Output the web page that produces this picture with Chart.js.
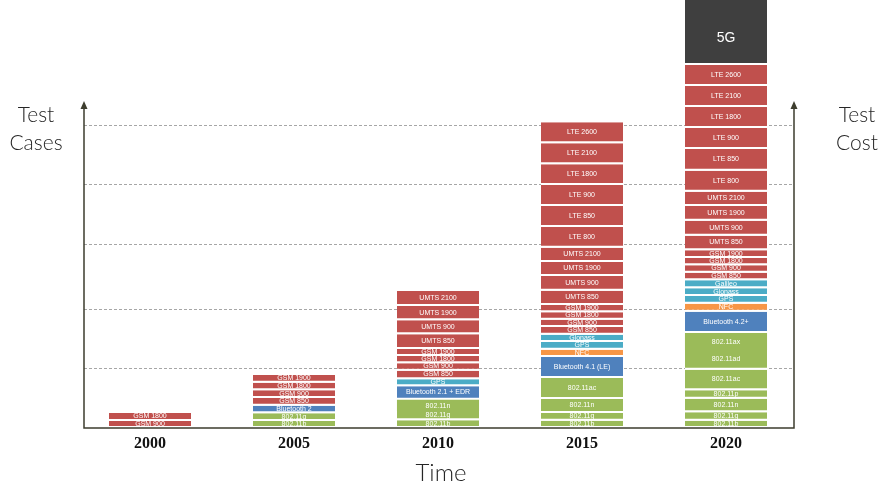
<!DOCTYPE html>
<html>
<head>
<meta charset="utf-8">
<script src="https://cdn.jsdelivr.net/npm/chart.js@4.4.1/dist/chart.umd.min.js"></script>
<style>
  html,body{margin:0;padding:0;background:#fff;}
  #wrap{width:889px;height:493px;position:relative;}
</style>
</head>
<body>
<div id="wrap"><canvas id="c"></canvas></div>
<script>
// ---- data (segment heights, bottom -> top) ----
const years = ['2000', '2005', '2010', '2015', '2020'];
const series = ['802.11b','802.11g','802.11n','802.11p','802.11ac','802.11ad','802.11ax',
  'Bluetooth','NFC','GPS','Glonass','Galileo',
  'GSM 850','GSM 900','GSM 1800','GSM 1900',
  'UMTS 850','UMTS 900','UMTS 1900','UMTS 2100',
  'LTE 800','LTE 850','LTE 900','LTE 1800','LTE 2100','LTE 2600','5G'];
const bluetoothNames = ['', 'Bluetooth 2', 'Bluetooth 2.1 + EDR', 'Bluetooth 4.1 (LE)', 'Bluetooth 4.2+'];
const n = null;
const y2000 = [n,n,n,n,n,n,n, n, n, n,n,n, n,7,8,n, n,n,n,n, n,n,n,n,n,n, n];
const y2005 = [7,7.7,n,n,n,n,n, 7.6, n, n,n,n, 7.7,7.7,7.6,7.7, n,n,n,n, n,n,n,n,n,n, n];
const y2010 = [7.7,9.3,11.3,n,n,n,n, 13.4, n, 7,n,n, 8.6,7.4,7.3,7, 14.7,14,14.3,15, n,n,n,n,n,n, n];
const y2015 = [7.3,7.7,14,n,21,n,n, 21, 7.3, 7.7,7.3,n, 7.7,7.3,7.4,7.3, 14.3,14.7,14,14.3, 20.7,21,21,20.7,21,21, n];
const y2020 = [7.3,8.4,13.6,8.4,20.6,19.7,17, 21.3, 8, 7.7,7.7,8, 7.6,7.4,7.3,7.7, 14.6,15,14.7,14.3, 21,21.7,21,21,21,21, 65];
const gridValues = [60, 119, 184, 244, 303];
// segments drawn flush on the one below them (no white separator)
const joinedBelow = {'802.11n': ['2010'], '802.11ax': ['2020']};

// ---- styles ----
const yearData = [y2000, y2005, y2010, y2015, y2020];
function colorFor(name){
  if (name.startsWith('802')) return '#9BBB59';
  if (name.startsWith('Bluetooth')) return '#4F81BD';
  if (name === 'NFC') return '#F79646';
  if (['GPS','Glonass','Galileo'].includes(name)) return '#4BACC6';
  if (name === '5G') return '#3F3F3F';
  return '#C0504D';
}
const datasets = series.map((name, i) => ({
  label: name,
  data: yearData.map(arr => arr[i]),
  backgroundColor: colorFor(name),
  borderColor: '#ffffff',
  borderSkipped: false,
  borderWidth: (ctx) => {
    const joined = (joinedBelow[name] || []).includes(years[ctx.dataIndex]);
    return {top: 0, left: 0, right: 0, bottom: joined ? 0 : 2};
  },
  categoryPercentage: 1.0,
  barPercentage: 0.57
}));

const deco = {
  id: 'deco',
  beforeDatasetsDraw(chart){
    const {ctx, chartArea} = chart;
    const ys = chart.scales.y;
    const axL = chartArea.left + 6, axR = chartArea.right - 4;
    ctx.save();
    ctx.strokeStyle = '#a6a6a6';
    ctx.lineWidth = 1;
    ctx.setLineDash([3, 2]);
    gridValues.forEach(v => {
      const y = Math.round(ys.getPixelForValue(v)) + 0.5;
      ctx.beginPath(); ctx.moveTo(axL, y); ctx.lineTo(axR, y); ctx.stroke();
    });
    ctx.restore();
  },
  afterDatasetsDraw(chart){
    const {ctx, chartArea} = chart;
    const ys = chart.scales.y, xs = chart.scales.x;
    ctx.save();
    // segment labels
    ctx.textAlign = 'center';
    ctx.textBaseline = 'middle';
    ctx.fillStyle = '#ffffff';
    chart.data.datasets.forEach((ds, di) => {
      const meta = chart.getDatasetMeta(di);
      meta.data.forEach((el, j) => {
        if (ds.data[j] == null) return;
        let txt = ds.label;
        if (txt === 'Bluetooth') txt = bluetoothNames[j];
        const joined = (joinedBelow[ds.label] || []).includes(years[j]);
        const bottom = el.base - (joined ? 0 : 2);
        let cy = (el.y + bottom) / 2;
        if (txt === '5G') {
          cy = el.y + (bottom - el.y) * 0.6;
          ctx.font = '14px "Liberation Sans", Arial, sans-serif';
        } else {
          ctx.font = '7px "Liberation Sans", Arial, sans-serif';
        }
        ctx.fillText(txt, el.x, cy + 0.5);
      });
    });
    // axes with arrows
    const axL = chartArea.left + 6, axR = chartArea.right - 4;
    const base = ys.getPixelForValue(0);
    const topY = 101;
    ctx.strokeStyle = '#3d3d2e';
    ctx.fillStyle = '#3d3d2e';
    ctx.lineWidth = 1.5;
    ctx.beginPath();
    ctx.moveTo(axL, topY + 5); ctx.lineTo(axL, base);
    ctx.lineTo(axR, base); ctx.lineTo(axR, topY + 5);
    ctx.stroke();
    [axL, axR].forEach(x => {
      ctx.beginPath();
      ctx.moveTo(x, topY); ctx.lineTo(x - 3.5, topY + 8); ctx.lineTo(x + 3.5, topY + 8);
      ctx.closePath(); ctx.fill();
    });
    // year labels
    ctx.fillStyle = '#111111';
    ctx.font = 'bold 16px "Liberation Serif", serif';
    years.forEach((yr, i) => {
      ctx.fillText(yr, xs.getPixelForValue(i), base + 16);
    });
    // axis titles
    ctx.fillStyle = '#262626';
    ctx.font = '300 24px Lato, "Open Sans", sans-serif';
    ctx.fillText('Time', (chartArea.left + chartArea.right) / 2 + 3, base + 45);
    ctx.font = '300 21px Lato, "Open Sans", sans-serif';
    ctx.fillText('Test', 36, 115);
    ctx.fillText('Cases', 36, 143);
    ctx.fillText('Test', 857, 115);
    ctx.fillText('Cost', 857, 143);
    ctx.restore();
  }
};

new Chart(document.getElementById('c'), {
  type: 'bar',
  data: { labels: years, datasets },
  options: {
    responsive: true,
    maintainAspectRatio: false,
    animation: false,
    layout: { padding: { left: 78, right: 91, top: 0, bottom: 65 } },
    plugins: { legend: { display: false }, tooltip: { enabled: false } },
    scales: {
      x: { stacked: true, display: false },
      y: { stacked: true, display: false, min: 0, max: 428 }
    }
  },
  plugins: [deco]
});
</script>
</body>
</html>
